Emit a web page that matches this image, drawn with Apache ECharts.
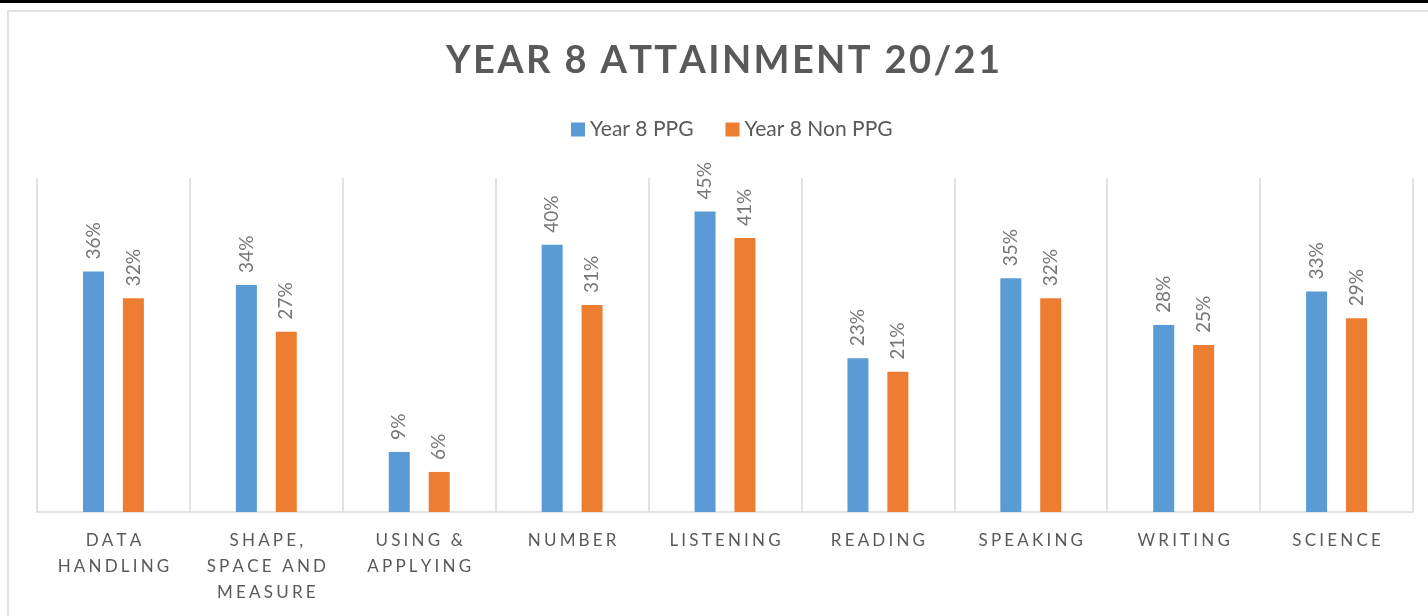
<!DOCTYPE html>
<html>
<head>
<meta charset="utf-8">
<title>Year 8 Attainment 20/21</title>
<script src="https://cdn.jsdelivr.net/npm/echarts@6/dist/echarts.min.js"></script>
<style>
  html, body { margin: 0; padding: 0; background: #fff; }
  #chart { width: 1428px; height: 616px; }
</style>
</head>
<body>
<div id="chart"></div>
<script>
// data
const categories = [
  'DATA\nHANDLING', 'SHAPE,\nSPACE AND\nMEASURE', 'USING &\nAPPLYING', 'NUMBER',
  'LISTENING', 'READING', 'SPEAKING', 'WRITING', 'SCIENCE'
];
const ppg = [36, 34, 9, 40, 45, 23, 35, 28, 33];
const nonPpg = [32, 27, 6, 31, 41, 21, 32, 25, 29];
const seriesNames = ['Year 8 PPG', 'Year 8 Non PPG'];

const grey = '#595959';
const font = 'Lato, "Open Sans", sans-serif';

// canvas text has no letter-spacing, so pad with thin/hair spaces
const spaced = (s, gap) => s.split('\n').map(l => l.split('').join(gap)).join('\n');

const barLabel = {
  show: true,
  position: 'top',
  rotate: 90,
  align: 'left',
  verticalAlign: 'middle',
  distance: 12,
  color: '#767676',
  fontSize: 19,
  formatter: '{c}%'
};

const chart = echarts.init(document.getElementById('chart'));
chart.setOption({
  animation: false,
  textStyle: { fontFamily: font },
  title: {
    text: spaced('YEAR 8 ATTAINMENT 20/21', '\u200A'),
    left: 441,
    top: 37,
    textStyle: { color: grey, fontSize: 38, fontWeight: 'bold', fontFamily: font }
  },
  legend: {
    data: seriesNames,
    top: 114,
    left: 566,
    icon: 'rect',
    itemWidth: 14,
    itemHeight: 14,
    itemGap: 32,
    textStyle: { color: grey, fontSize: 21 }
  },
  graphic: [
    { type: 'rect', shape: { x: 0, y: 0, width: 1428, height: 3 }, style: { fill: '#000' }, silent: true },
    { type: 'rect', shape: { x: 8, y: 11, width: 1450, height: 640 }, style: { fill: 'none', stroke: '#d9d9d9', lineWidth: 1.5 }, silent: true, z: -1 }
  ],
  grid: { left: 37, right: 15, top: 178, bottom: 104 },
  xAxis: {
    type: 'category',
    data: categories,
    axisTick: { show: false },
    axisLine: { lineStyle: { color: '#d9d9d9', width: 1.5 } },
    splitLine: { show: true, lineStyle: { color: '#d9d9d9', width: 1.5 } },
    axisLabel: {
      interval: 0,
      margin: 16,
      color: grey,
      fontSize: 17,
      lineHeight: 26,
      formatter: v => spaced(v, '\u2009\u200A')
    }
  },
  yAxis: {
    type: 'value',
    min: 0,
    max: 50,
    show: false,
    splitLine: { show: false }
  },
  series: [
    { name: seriesNames[0], type: 'bar', data: ppg, barWidth: 21, barGap: '90%', itemStyle: { color: '#5b9bd5' }, label: barLabel },
    { name: seriesNames[1], type: 'bar', data: nonPpg, barWidth: 21, barGap: '90%', itemStyle: { color: '#ed7d31' }, label: barLabel }
  ]
});
</script>
</body>
</html>
